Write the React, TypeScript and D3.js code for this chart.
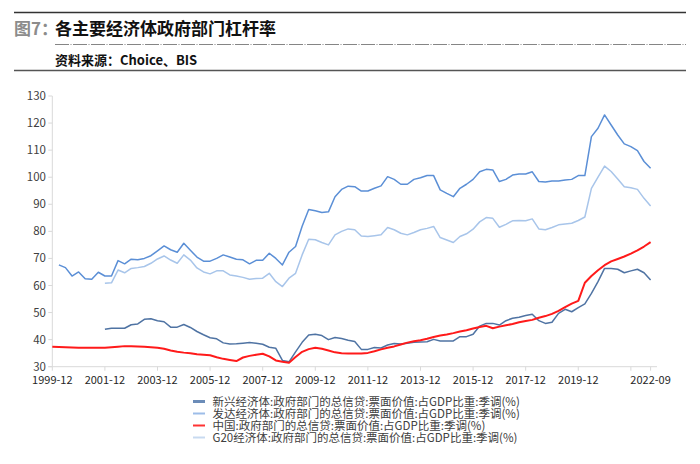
import React, { useEffect, useRef } from 'react';
import * as d3 from 'd3';

// quarterly data, first point is 1999-12, last is 2022-09
const startYear = 1999;
const quarterCount = 92;

const xTickLabels = ['1999-12', '2001-12', '2003-12', '2005-12', '2007-12', '2009-12', '2011-12', '2013-12', '2015-12', '2017-12', '2019-12', '2022-09'];
const yTicks = [30, 40, 50, 60, 70, 80, 90, 100, 110, 120, 130];

const N8 = [null, null, null, null, null, null, null, null];

// 新兴经济体
const emerging: (number | null)[] = [...N8,
  43.8, 44.2, 44.2, 44.2, 45.5, 45.8, 47.5, 47.7, 47.0, 46.6,
  44.6, 44.6, 45.6, 44.5, 43.0, 41.8, 40.7, 40.3, 38.8, 38.4,
  38.5, 38.7, 38.9, 38.7, 38.3, 37.2, 36.8, 32.3, 31.8, 35.5,
  39.0, 41.7, 42.0, 41.5, 40.0, 40.8, 40.4, 39.8, 39.3, 36.4,
  36.4, 37.1, 36.9, 38.0, 38.6, 38.4, 38.7, 39.0, 39.1, 39.2,
  40.1, 39.5, 39.5, 39.5, 41.1, 41.1, 42.0, 45.0, 46.0, 46.0,
  45.4, 47.0, 47.9, 48.3, 48.9, 49.4, 47.0, 46.0, 46.4, 49.7,
  51.2, 50.3, 51.8, 53.2, 57.1, 61.4, 66.3, 66.3, 66.0, 64.7,
  65.4, 66.0, 64.7, 62.0];

// 发达经济体
const developed: (number | null)[] = [null,
  67.6, 66.6, 63.5, 65.0, 62.5, 62.3, 64.9, 63.5, 63.5,
  69.2, 68.0, 69.7, 69.5, 70.0, 71.0, 72.8, 74.6, 73.2, 72.3,
  75.6, 73.0, 70.5, 69.0, 69.0, 70.0, 71.3, 70.5, 69.7, 69.5,
  68.0, 69.3, 69.3, 71.9, 70.0, 67.6, 72.3, 74.4, 81.9, 88.1,
  87.6, 87.0, 87.2, 92.8, 95.5, 96.7, 96.5, 94.9, 94.9, 95.9,
  96.8, 100.2, 99.2, 97.4, 97.4, 99.2, 99.8, 100.6, 100.6, 95.3,
  94.0, 92.8, 95.9, 97.4, 99.2, 102.0, 102.9, 102.7, 98.4, 99.2,
  100.8, 101.2, 101.2, 102.0, 98.4, 98.2, 98.6, 98.6, 99.0, 99.2,
  100.6, 100.6, 115.0, 118.1, 123.0, 119.3, 115.6, 112.3, 111.3, 109.8,
  105.8, 103.3];

// 中国
const china: number[] = [
  37.4, 37.3, 37.2, 37.1, 37.0, 37.0, 37.0, 37.0, 37.0, 37.2,
  37.4, 37.6, 37.6, 37.5, 37.4, 37.2, 37.0, 36.6, 36.0, 35.5,
  35.2, 35.0, 34.6, 34.4, 34.2, 33.5, 32.9, 32.5, 32.1, 33.4,
  34.0, 34.4, 34.8, 33.8, 32.3, 31.8, 31.5, 33.6, 35.5, 36.5,
  37.0, 36.6, 36.0, 35.3, 35.0, 34.9, 34.9, 34.9, 35.1, 35.7,
  36.4, 37.0, 37.5, 38.2, 38.9, 39.4, 39.8, 40.3, 41.0, 41.5,
  41.9, 42.4, 43.0, 43.5, 44.1, 44.7, 45.1, 44.2, 44.8, 45.3,
  45.8, 46.4, 46.9, 47.3, 48.1, 48.7, 49.5, 50.6, 52.0, 53.3,
  54.3, 61.0, 63.5, 65.6, 67.5, 68.9, 69.8, 70.7, 71.8, 73.0,
  74.4, 76.0];

// G20经济体
const g20: (number | null)[] = [...N8,
  60.8, 61.0, 65.7, 64.7, 66.3, 66.6, 67.0, 68.2, 69.8, 70.9,
  69.4, 68.2, 71.3, 69.4, 66.5, 65.0, 64.3, 65.4, 65.4, 63.9,
  63.5, 63.0, 62.3, 62.6, 62.7, 64.5, 61.4, 59.6, 62.7, 64.5,
  71.3, 77.1, 76.9, 75.9, 75.0, 78.7, 80.0, 80.9, 80.6, 78.3,
  78.1, 78.4, 78.7, 81.4, 80.6, 79.3, 78.7, 79.6, 80.6, 81.1,
  81.8, 77.7, 76.8, 75.9, 78.1, 79.1, 80.8, 83.5, 85.1, 84.8,
  81.5, 82.6, 83.9, 84.0, 83.9, 84.6, 80.9, 80.6, 81.4, 82.4,
  82.7, 83.0, 84.0, 85.3, 95.9, 100.0, 104.1, 102.1, 99.3, 96.5,
  96.1, 95.5, 92.2, 89.4];

const seriesNames = [
  '新兴经济体:政府部门的总信贷:票面价值:占GDP比重:季调(%)',
  '发达经济体:政府部门的总信贷:票面价值:占GDP比重:季调(%)',
  '中国:政府部门的总信贷:票面价值:占GDP比重:季调(%)',
  'G20经济体:政府部门的总信贷:票面价值:占GDP比重:季调(%)',
];
const seriesColors = ['#4f73a3', '#5b8fd6', '#ff1a1a', '#a8c5ea'];
const legendColors = ['#6b8cb8', '#9dbde8', '#ff3333', '#c8daf0'];
const seriesWidths = [1.5, 1.5, 2, 1.5];
const seriesValues = [emerging, developed, china, g20];

const FONT = '"Noto Sans CJK SC", "Noto Sans", sans-serif';

const App: React.FC = () => {
  const svgRef = useRef<SVGSVGElement>(null);

  useEffect(() => {
    if (!svgRef.current) return;
    const svg = d3.select(svgRef.current);
    svg.selectAll('*').remove();

    // header
    svg.append('line').attr('x1', 14).attr('x2', 686).attr('y1', 12.5).attr('y2', 12.5)
      .attr('stroke', '#333').attr('stroke-width', 1.3);
    svg.append('text').attr('x', 14).attr('y', 35).attr('font-family', FONT)
      .attr('font-size', 17).attr('font-weight', 700).attr('fill', '#8c8c8c').text('图7：');
    svg.append('text').attr('x', 55).attr('y', 35).attr('font-family', FONT)
      .attr('font-size', 17).attr('font-weight', 700).attr('fill', '#111').text('各主要经济体政府部门杠杆率');
    svg.append('line').attr('x1', 55).attr('x2', 686).attr('y1', 44.5).attr('y2', 44.5)
      .attr('stroke', '#666').attr('stroke-width', 0.8).attr('stroke-dasharray', '14,1.5,1,1.5');
    svg.append('text').attr('x', 55).attr('y', 65).attr('font-family', FONT)
      .attr('font-size', 13).attr('font-weight', 700).attr('fill', '#111').text('资料来源：Choice、BIS');
    svg.append('line').attr('x1', 14).attr('x2', 686).attr('y1', 70.5).attr('y2', 70.5)
      .attr('stroke', '#555').attr('stroke-width', 1.5);

    const quarters = d3.range(quarterCount).map(i => {
      const m = 12 + i * 3;
      const yr = startYear + Math.floor((m - 1) / 12);
      const mm = ((m - 1) % 12) + 1;
      return `${yr}-${String(mm).padStart(2, '0')}`;
    });

    const x = d3.scalePoint<string>().domain(quarters).range([52.3, 650.6]);
    const y = d3.scaleLinear().domain([30, 130]).range([366.7, 96]);
    const x0 = x(quarters[0])!;

    // axes
    const g = svg.append('g');
    g.append('line').attr('x1', x0).attr('x2', x0)
      .attr('y1', y(130)).attr('y2', y(30)).attr('stroke', '#d9d9d9');
    g.append('line').attr('x1', x0 - 4).attr('x2', 657)
      .attr('y1', y(30)).attr('y2', y(30)).attr('stroke', '#d9d9d9');

    g.selectAll('.ytick').data(yTicks).enter().append('line')
      .attr('x1', x0 - 4).attr('x2', x0)
      .attr('y1', d => y(d)).attr('y2', d => y(d)).attr('stroke', '#d9d9d9');
    g.selectAll('.ylab').data(yTicks).enter().append('text')
      .attr('x', 46).attr('y', d => y(d)).attr('dy', '0.35em').attr('text-anchor', 'end')
      .attr('font-family', FONT).attr('font-size', 11.5).attr('fill', '#404040').text(d => d);

    const tickQuarters = quarters.filter((_, i) => i % 8 === 0 || i === quarterCount - 1);
    g.selectAll('.xtick').data(tickQuarters).enter().append('line')
      .attr('x1', d => x(d)!).attr('x2', d => x(d)!)
      .attr('y1', y(30)).attr('y2', y(30) + 4).attr('stroke', '#d9d9d9');
    g.selectAll('.xlab').data(xTickLabels).enter().append('text')
      .attr('x', d => x(d)!).attr('y', 384).attr('text-anchor', 'middle')
      .attr('font-family', FONT).attr('font-size', 11).attr('fill', '#262626').text(d => d);

    // lines
    const line = d3.line<number | null>()
      .defined(d => d != null)
      .x((_, i) => x(quarters[i])!)
      .y(d => y(d as number));

    seriesValues.forEach((vals, k) => {
      svg.append('path').datum(vals)
        .attr('fill', 'none')
        .attr('stroke', seriesColors[k])
        .attr('stroke-width', seriesWidths[k])
        .attr('stroke-linejoin', 'round')
        .attr('d', line);
    });

    // legend
    const lg = svg.append('g').attr('transform', 'translate(193,401.5)');
    seriesNames.forEach((name, k) => {
      const row = lg.append('g').attr('transform', `translate(0,${k * 12})`);
      row.append('line').attr('x1', 0).attr('x2', 12).attr('y1', 0).attr('y2', 0)
        .attr('stroke', legendColors[k]).attr('stroke-width', k === 0 ? 3 : 2);
      row.append('text').attr('x', 19.5).attr('y', 0).attr('dy', '0.35em')
        .attr('font-family', FONT).attr('font-size', 11.5).attr('fill', '#404040').text(name);
    });
  }, []);

  return (
    <svg ref={svgRef} width={700} height={464}
      style={{ position: 'absolute', left: 0, top: 0, background: '#fff' }} />
  );
};

export default App;
